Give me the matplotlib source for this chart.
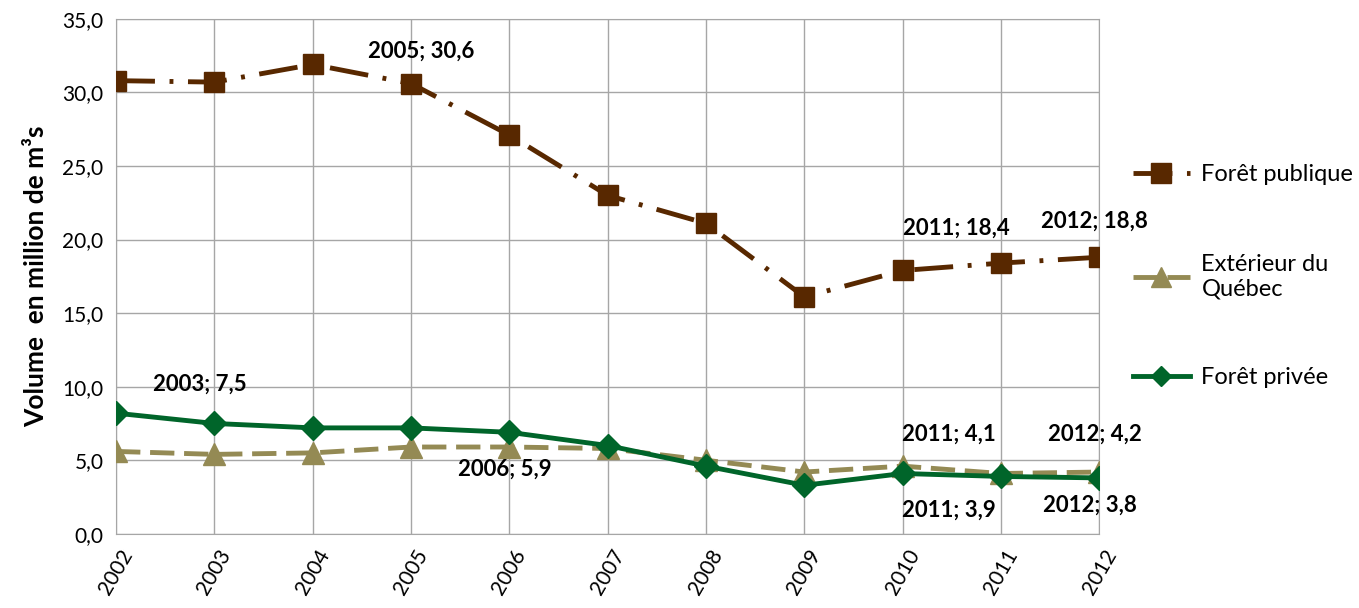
import matplotlib.pyplot as plt
from matplotlib.lines import Line2D

plt.rcParams['font.family'] = ['Lato', 'DejaVu Sans']

years = [2002, 2003, 2004, 2005, 2006, 2007, 2008, 2009, 2010, 2011, 2012]
foret_publique = [30.8, 30.7, 31.9, 30.6, 27.1, 23.0, 21.1, 16.1, 17.9, 18.4, 18.8]
exterieur = [5.6, 5.4, 5.5, 5.9, 5.9, 5.8, 5.0, 4.2, 4.6, 4.1, 4.2]
foret_privee = [8.2, 7.5, 7.2, 7.2, 6.9, 6.0, 4.6, 3.3, 4.1, 3.9, 3.8]

c_pub = '#582800'
c_ext = '#948a54'
c_priv = '#00652a'

dash_pub = (8, 3, 0.8, 3)
dash_ext = (5, 2)

fig = plt.figure(figsize=(13.59, 6.08), dpi=100)
ax = fig.add_axes([0.0854, 0.122, 0.7236, 0.847])

ax.plot(years, foret_publique, color=c_pub, lw=3.5, dashes=dash_pub,
        marker='s', markersize=15, zorder=3)
ax.plot(years, exterieur, color=c_ext, lw=3.5, dashes=dash_ext,
        marker='^', markersize=16, zorder=3)
ax.plot(years, foret_privee, color=c_priv, lw=3.5,
        marker='D', markersize=12, zorder=4)

ax.set_xlim(2002, 2012)
ax.set_ylim(0, 35)
ax.set_xticks(years)
ax.set_xticklabels([str(y) for y in years], rotation=60, ha='center',
                   fontsize=15)
ax.set_yticks(range(0, 36, 5))
ax.set_yticklabels([f'{v},0' for v in range(0, 36, 5)], fontsize=15)
ax.tick_params(length=0, pad=9)
ax.grid(True, color='#a6a6a6', lw=1)
for s in ax.spines.values():
    s.set_color('#a6a6a6')
ax.set_axisbelow(True)
ax.set_ylabel('Volume  en million de m³s', fontsize=19, fontweight='bold',
              labelpad=10)

# labels (text position in data units)
labels = [
    (2005.1, 32.8, '2005; 30,6'),
    (2010.55, 20.75, '2011; 18,4'),
    (2011.95, 21.25, '2012; 18,8'),
    (2002.85, 10.2, '2003; 7,5'),
    (2005.95, 4.4, '2006; 5,9'),
    (2010.47, 6.8, '2011; 4,1'),
    (2011.95, 6.8, '2012; 4,2'),
    (2010.47, 1.6, '2011; 3,9'),
    (2011.9, 1.95, '2012; 3,8'),
]
for tx, ty, txt in labels:
    ax.text(tx, ty, txt, ha='center', va='center', fontsize=16,
            fontweight='bold', zorder=5)

handles = [
    Line2D([], [], color=c_pub, lw=3.5, dashes=dash_pub, marker='s',
           markersize=14),
    Line2D([], [], color=c_ext, lw=3.5, dashes=dash_ext, marker='^',
           markersize=14),
    Line2D([], [], color=c_priv, lw=3.5, marker='D', markersize=10),
]
fig.legend(handles, ['Forêt publique', 'Extérieur du\nQuébec', 'Forêt privée'],
           loc='upper left', bbox_to_anchor=(0.818, 0.765), frameon=False,
           fontsize=17, handlelength=2.4, labelspacing=2.9, handletextpad=0.5)

fig.savefig('out.png', dpi=100)
